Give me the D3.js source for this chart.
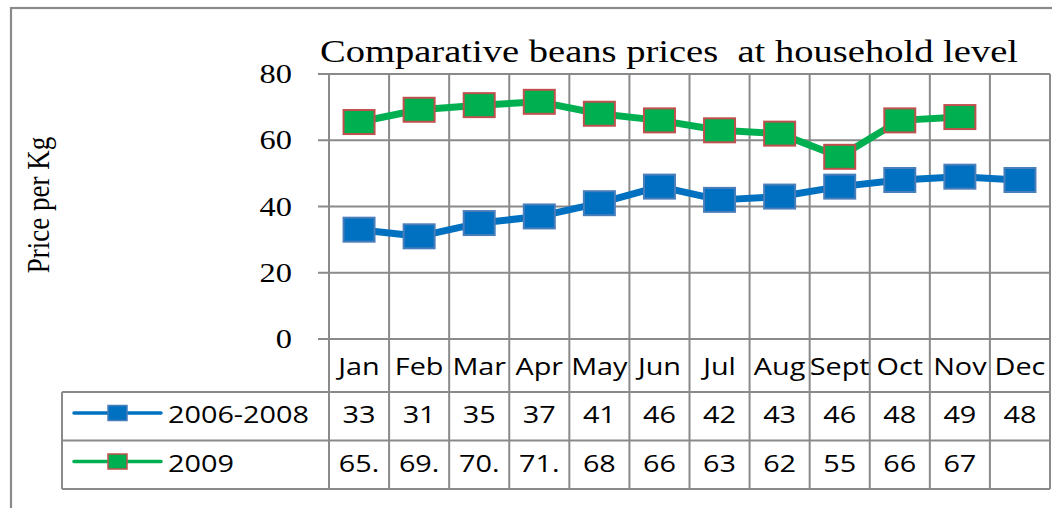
<!DOCTYPE html>
<html>
<head>
<meta charset="utf-8">
<script src="https://cdn.jsdelivr.net/npm/d3@7"></script>
<style>
  body { margin: 0; background: #fff; }
  svg { display: block; }
</style>
</head>
<body>
<div id="viz"></div>
<script>
// Comparative beans prices, two series plus an Excel-style data table below the plot

var months = ["Jan", "Feb", "Mar", "Apr", "May", "Jun", "Jul", "Aug", "Sept", "Oct", "Nov", "Dec"];
var prices0608 = [33, 31, 35, 37, 41, 46, 42, 43, 46, 48, 49, 48];
var prices2009 = [65.5, 69.2, 70.6, 71.6, 68, 66, 63, 62, 55, 66, 67, null];
var seriesNames = ["2006-2008", "2009"];
var yTicks = [0, 20, 40, 60, 80];

var W = 1052, H = 508;
var plotLeft = 329, plotRight = 1050, plotTop = 74, plotBottom = 339;
var tableLeft = 62, rowH = 48.5;   // data table rows below the month labels
var monthRowBottom = 392;
var sx = 1.2;                       // the original picture is stretched sideways
var grid = "#8a8a8a";
var serif = "'Liberation Serif', 'Times New Roman', serif";
var sans = "'Open Sans', 'DejaVu Sans', sans-serif";

var series = [
    {name: seriesNames[0], values: prices0608, line: "#0070c0", fill: "#0070c0", stroke: "#4a7ebb"},
    {name: seriesNames[1], values: prices2009, line: "#00b050", fill: "#00b050", stroke: "#c0504d"}
];

var svg = d3.select("#viz").append("svg")
    .attr("width", W)
    .attr("height", H);

// outer chart border (runs off the right and bottom of the picture)
svg.append("rect")
    .attr("x", 11).attr("y", 8)
    .attr("width", W + 20).attr("height", H + 20)
    .attr("fill", "none").attr("stroke", grid).attr("stroke-width", 2.2);

var x = d3.scaleBand().domain(months).range([plotLeft, plotRight]).padding(0);
var y = d3.scaleLinear().domain([0, 80]).range([plotBottom, plotTop]);
var bw = x.bandwidth();

function stretchedText(g, tx, ty, str, size, family, anchor) {
    return g.append("text")
        .attr("transform", "translate(" + tx + "," + ty + ") scale(" + sx + ",1)")
        .attr("font-family", family)
        .attr("font-size", size)
        .attr("text-anchor", anchor || "start")
        .attr("fill", "#000")
        .text(str);
}

// horizontal gridlines with outside ticks
var gGrid = svg.append("g");
gGrid.selectAll("line.h")
    .data(yTicks)
    .enter().append("line")
    .attr("x1", 318).attr("x2", plotRight)
    .attr("y1", function(d) { return y(d); })
    .attr("y2", function(d) { return y(d); })
    .attr("stroke", grid).attr("stroke-width", 2);

// vertical lines: category boundaries through plot and table
var bounds = months.map(function(m) { return x(m); }).concat([plotRight]);
var tableBottom = monthRowBottom + 2 * rowH;
gGrid.selectAll("line.v")
    .data(bounds)
    .enter().append("line")
    .attr("x1", function(d) { return d; })
    .attr("x2", function(d) { return d; })
    .attr("y1", plotTop).attr("y2", tableBottom)
    .attr("stroke", grid).attr("stroke-width", 2);

// table rows
[monthRowBottom, monthRowBottom + rowH, tableBottom].forEach(function(yy) {
    gGrid.append("line")
        .attr("x1", tableLeft).attr("x2", plotRight)
        .attr("y1", yy).attr("y2", yy)
        .attr("stroke", grid).attr("stroke-width", 2);
});
gGrid.append("line")
    .attr("x1", tableLeft).attr("x2", tableLeft)
    .attr("y1", monthRowBottom).attr("y2", tableBottom)
    .attr("stroke", grid).attr("stroke-width", 2);

// y tick labels
yTicks.forEach(function(t) {
    stretchedText(svg, 292, y(t) + 9, t, 27, serif, "end");
});

// title
svg.append("text")
    .attr("x", 320).attr("y", 62)
    .attr("font-family", serif)
    .attr("font-size", 31)
    .attr("textLength", 698)
    .attr("lengthAdjust", "spacingAndGlyphs")
    .text("Comparative beans prices\u00a0 at household level");

// y axis title
svg.append("text")
    .attr("transform", "translate(49,205) scale(" + sx + ",1) rotate(-90)")
    .attr("font-family", serif)
    .attr("font-size", 27)
    .attr("text-anchor", "middle")
    .text("Price per Kg");

// month labels
months.forEach(function(m) {
    stretchedText(svg, x(m) + bw / 2, 375, m, 24, sans, "middle");
});

// lines and markers
var line = d3.line()
    .defined(function(d) { return d.v != null; })
    .x(function(d) { return x(d.m) + bw / 2; })
    .y(function(d) { return y(d.v); });

series.forEach(function(s) {
    var pts = months.map(function(m, i) { return {m: m, v: s.values[i]}; });
    svg.append("path")
        .datum(pts)
        .attr("d", line)
        .attr("fill", "none")
        .attr("stroke", s.line)
        .attr("stroke-width", 7)
        .attr("stroke-linejoin", "round");
    svg.append("g").selectAll("rect")
        .data(pts.filter(function(d) { return d.v != null; }))
        .enter().append("rect")
        .attr("x", function(d) { return x(d.m) + bw / 2 - 15.5; })
        .attr("y", function(d) { return y(d.v) - 12; })
        .attr("width", 31).attr("height", 24)
        .attr("fill", s.fill)
        .attr("stroke", s.stroke)
        .attr("stroke-width", 2);
});

// data table rows: legend key + values
series.forEach(function(s, r) {
    var top = monthRowBottom + r * rowH;
    var ly = top + 21;
    svg.append("line")
        .attr("x1", 74).attr("x2", 161)
        .attr("y1", ly).attr("y2", ly)
        .attr("stroke", s.line).attr("stroke-width", 3.5)
        .attr("stroke-linecap", "round");
    svg.append("rect")
        .attr("x", 108).attr("y", ly - 7.5)
        .attr("width", 19).attr("height", 15)
        .attr("fill", s.fill).attr("stroke", s.stroke).attr("stroke-width", 1.5);
    stretchedText(svg, 168, top + 31, s.name, 24, sans, "start");
    s.values.forEach(function(v, i) {
        if (v == null) return;
        var label = Number.isInteger(v) ? String(v) : String(v).slice(0, 3);
        stretchedText(svg, x(months[i]) + bw / 2, top + 31, label, 24, sans, "middle");
    });
});
</script>
</body>
</html>
